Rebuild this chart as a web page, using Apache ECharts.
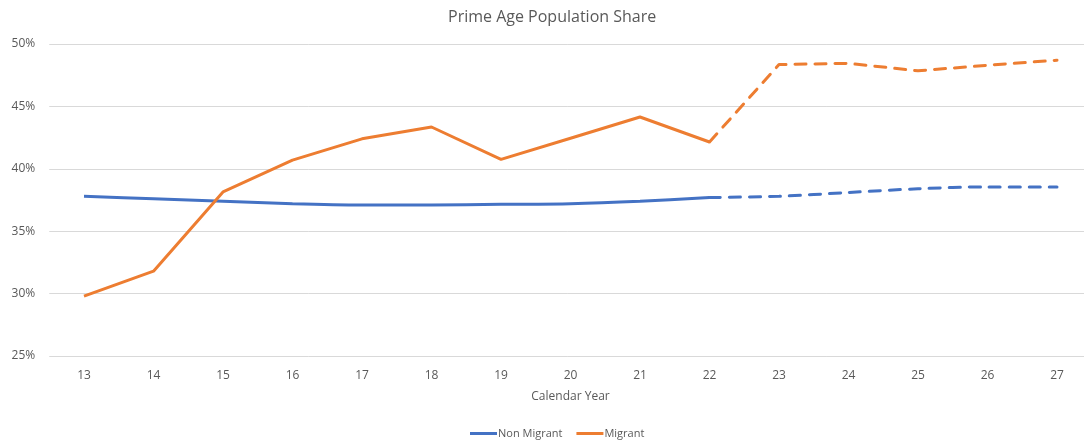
<!DOCTYPE html>
<html>
<head>
<meta charset="utf-8">
<script src="https://cdn.jsdelivr.net/npm/echarts@6/dist/echarts.min.js"></script>
<style>
  html, body { margin: 0; padding: 0; background: #fff; }
  #chart { width: 1084px; height: 440px; }
</style>
</head>
<body>
<div id="chart"></div>
<script>
  // calendar years (two-digit)
  var years = ['13', '14', '15', '16', '17', '18', '19', '20', '21', '22', '23', '24', '25', '26', '27'];
  // share of prime age population, percent
  var nonMigrant = [37.8, 37.6, 37.4, 37.2, 37.1, 37.1, 37.15, 37.2, 37.4, 37.7, 37.8, 38.1, 38.4, 38.55, 38.55];
  var migrant = [29.8, 31.8, 38.15, 40.7, 42.4, 43.35, 40.75, 42.45, 44.15, 42.15, 48.35, 48.45, 47.85, 48.3, 48.7];
  var yTicks = [25, 30, 35, 40, 45, 50];
  var lastActual = 9; // index of '22', projections after this

  function actual(arr) {
    return arr.map(function (v, i) { return i <= lastActual ? v : null; });
  }
  function projected(arr) {
    return arr.map(function (v, i) { return i >= lastActual ? v : null; });
  }

  var blue = '#4472C4';
  var orange = '#ED7D31';
  var font = '"Open Sans", "Liberation Sans", sans-serif';

  var myChart = echarts.init(document.getElementById('chart'));
  myChart.setOption({
    animation: false,
    title: {
      text: 'Prime Age Population Share',
      left: 443,
      top: 4,
      textStyle: { color: '#595959', fontSize: 16, fontWeight: 'normal', fontFamily: font }
    },
    legend: {
      data: ['Non Migrant', 'Migrant'],
      top: 423,
      left: 465,
      itemWidth: 27,
      itemHeight: 3,
      itemGap: 14,
      icon: 'rect',
      textStyle: { color: '#595959', fontSize: 11, fontFamily: font, padding: [0, 0, 0, -4] }
    },
    grid: {
      left: 49.25,
      width: 1042.5,
      top: 44,
      bottom: 84,
      outerBoundsMode: 'none',
      containLabel: false
    },
    xAxis: {
      type: 'category',
      data: years,
      boundaryGap: true,
      name: 'Calendar Year',
      nameLocation: 'middle',
      nameGap: 35,
      nameTextStyle: { color: '#595959', fontSize: 12, fontFamily: font },
      axisLine: { show: false },
      axisTick: { show: false },
      axisLabel: { color: '#595959', fontSize: 12, fontFamily: font, margin: 14 }
    },
    yAxis: {
      type: 'value',
      min: yTicks[0],
      max: yTicks[yTicks.length - 1],
      interval: 5,
      axisLine: { show: false },
      axisTick: { show: false },
      axisLabel: {
        color: '#595959', fontSize: 12, fontFamily: font, margin: 14,
        formatter: '{value}%'
      },
      splitLine: { lineStyle: { color: '#d9d9d9', width: 1 } }
    },
    series: [
      {
        name: 'Non Migrant',
        type: 'line',
        data: actual(nonMigrant),
        smooth: 0.3,
        showSymbol: false,
        color: blue,
        lineStyle: { color: blue, width: 3 }
      },
      {
        name: 'Non Migrant',
        type: 'line',
        data: projected(nonMigrant),
        smooth: 0.3,
        showSymbol: false,
        color: blue,
        lineStyle: { color: blue, width: 3, type: [11, 9], cap: 'round' }
      },
      {
        name: 'Migrant',
        type: 'line',
        data: actual(migrant),
        showSymbol: false,
        color: orange,
        lineStyle: { color: orange, width: 3 }
      },
      {
        name: 'Migrant',
        type: 'line',
        data: projected(migrant),
        showSymbol: false,
        color: orange,
        lineStyle: { color: orange, width: 3, type: [11, 9], cap: 'round' }
      }
    ]
  });
</script>
</body>
</html>
